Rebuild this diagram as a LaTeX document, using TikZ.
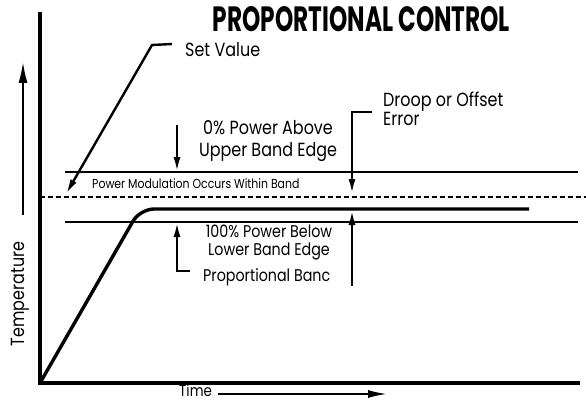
\documentclass[tikz,border=0pt]{standalone}
\usepackage{fontspec}
\usepackage{graphicx}
\setmainfont{Poppins}
\newfontfamily\labfont[FakeStretch=0.84]{Poppins}
\usetikzlibrary{arrows.meta}
\begin{document}
\begin{tikzpicture}[x=1pt,y=-1pt,
  lbl/.style={font=\labfont\fontsize{19}{22}\selectfont, inner sep=0pt, align=center},
  lblb/.style={font=\labfont\fontsize{17}{18}\selectfont, inner sep=0pt, align=center},
  small/.style={font=\labfont\fontsize{13}{15}\selectfont, inner sep=0pt},
  timelbl/.style={font=\labfont\fontsize{16}{16}\selectfont, inner sep=0pt},
  axis/.style={line width=3.4pt, line join=miter},
  band/.style={line width=2.6pt},
  proc/.style={line width=3.4pt, rounded corners=14pt},
  lead/.style={line width=2.4pt, -{Latex[length=15pt,width=7pt]}},
  bigarrow/.style={line width=1.8pt, -{Latex[length=21pt,width=9pt]}},
  setline/.style={line width=1.4pt, dash pattern=on 5pt off 3pt}
]
\useasboundingbox (0,0) rectangle (586,401);
% title
\node[inner sep=0pt] (title) at (361.5,19.5) {\resizebox{297pt}{25pt}{\bfseries PROPORTIONAL CONTROL}};
% axes
\coordinate (O) at (40,383);
\coordinate (ytop) at (40,12);
\coordinate (xend) at (580,383);
\draw[axis] (ytop) -- (O) -- (xend);
% temperature
\coordinate (tA) at (23,215);
\coordinate (tB) at (23,62);
\draw[bigarrow] (tA) -- (tB);
\node[lbl, rotate=90] (temp) at (20,294) {Temperature};
% time
\node[timelbl, anchor=base west] (time) at (179,396) {Time};
\coordinate (timeA) at (218,394);
\coordinate (timeB) at (388,394);
\draw[line width=2.4pt, -{Latex[length=20pt,width=8pt]}] (timeA) -- (timeB);
% set value line and bands
\coordinate (sA) at (40,197);
\coordinate (sB) at (586,197);
\draw[setline] (sA) -- (sB);
\coordinate (uA) at (65,172);
\coordinate (uB) at (578,172);
\draw[band] (uA) -- (uB);
\coordinate (lA) at (65,222);
\coordinate (lB) at (578,222);
\draw[band] (lA) -- (lB);
% process curve
\coordinate (pk) at (140,209);
\coordinate (pe) at (529,209);
\draw[proc] (O) -- (pk) -- (pe);
% set value
\node[lbl, anchor=west] (setv) at (185,50) {Set Value};
\coordinate (sv1) at (172,44);
\coordinate (sv2) at (152,45);
\coordinate (sv3) at (66,194);
\draw[lead] (sv1) -- (sv2) -- (sv3);
% 0% power above
\node[lbl] (above) at (268,141) {0\% Power Above\\Upper Band Edge};
\coordinate (a1) at (177,125);
\coordinate (a2) at (177,172);
\draw[lead] (a1) -- (a2);
% power modulation
\node[small, anchor=west] (mod) at (92,184) {Power Modulation Occurs Within Band};
% droop
\node[lbl, anchor=north west, align=left] (droop) at (383,92) {Droop or Offset\\[-3pt]Error};
\coordinate (d1) at (372,112);
\coordinate (d2) at (352,112);
\coordinate (d3) at (352,194);
\draw[lead] (d1) -- (d2) -- (d3);
\coordinate (d4) at (352,286);
\coordinate (d5) at (352,210);
\draw[lead] (d4) -- (d5);
% 100% power below
\node[lblb] (below) at (269,243) {100\% Power Below\\Lower Band Edge};
% proportional band
\node[lblb, anchor=west] (prop) at (203,277) {Proportional Banc};
\coordinate (b1) at (190,271);
\coordinate (b2) at (177,271);
\coordinate (b3) at (177,222);
\draw[lead] (b1) -- (b2) -- (b3);
\end{tikzpicture}
\end{document}
